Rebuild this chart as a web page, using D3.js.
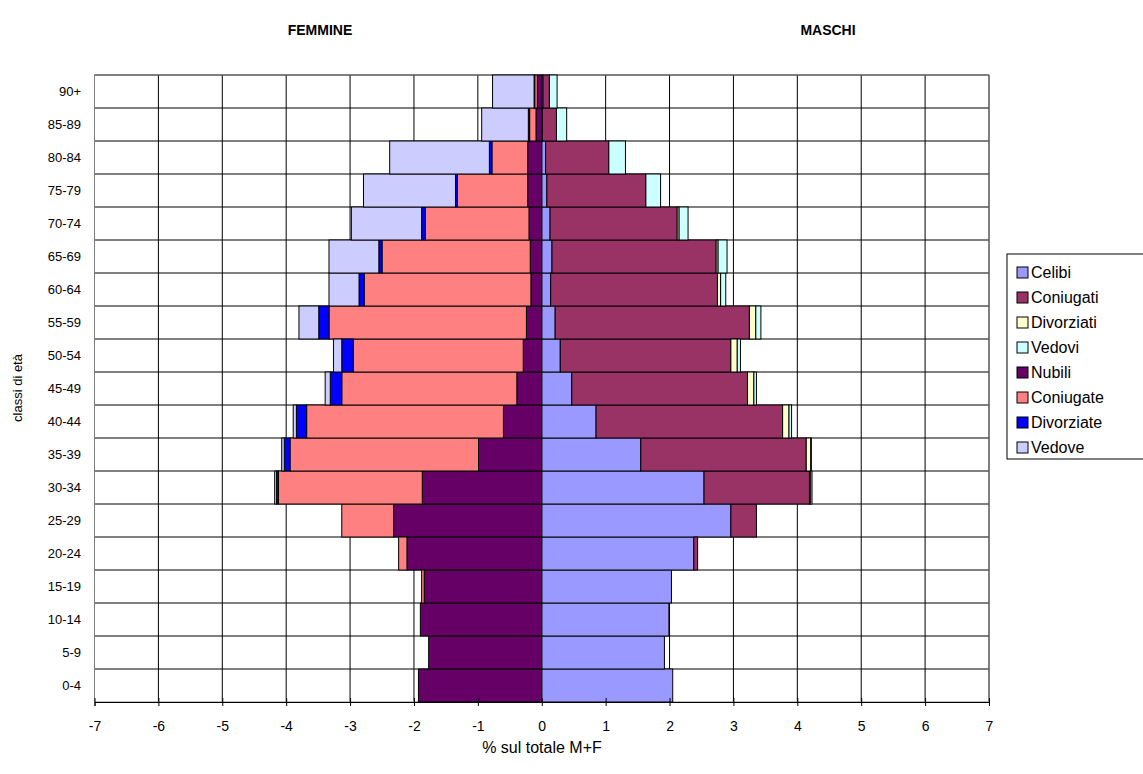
<!DOCTYPE html>
<html>
<head>
<meta charset="utf-8">
<script src="https://cdn.jsdelivr.net/npm/d3@7"></script>
<style>
  body { margin: 0; background: #fff; }
  text { font-family: "Liberation Sans", Arial, sans-serif; }
</style>
</head>
<body>
<div id="chart"></div>
<script>
// age classes, bottom to top
var ages = ["0-4","5-9","10-14","15-19","20-24","25-29","30-34","35-39","40-44","45-49",
            "50-54","55-59","60-64","65-69","70-74","75-79","80-84","85-89","90+"];

// femmine (% of total M+F)
var nubili     = [1.93,1.77,1.90,1.84,2.11,2.32,1.87,0.99,0.60,0.39,0.29,0.24,0.17,0.18,0.20,0.22,0.22,0.09,0.07];
var coniugate  = [0,0,0,0.04,0.13,0.81,2.25,2.95,3.08,2.74,2.66,3.09,2.61,2.32,1.62,1.10,0.56,0.10,0.04];
var divorziate = [0,0,0,0,0,0,0.03,0.09,0.16,0.18,0.18,0.16,0.08,0.05,0.06,0.03,0.04,0.02,0.01];
var vedove     = [0,0,0,0,0,0,0.03,0.04,0.05,0.08,0.13,0.31,0.47,0.78,1.10,1.44,1.56,0.73,0.65];

// maschi
var celibi     = [2.05,1.92,1.99,2.03,2.38,2.96,2.54,1.55,0.85,0.47,0.29,0.21,0.14,0.16,0.13,0.08,0.06,0.01,0.02];
var coniugati  = [0,0,0,0,0.06,0.40,1.65,2.59,2.92,2.75,2.67,3.04,2.61,2.57,1.99,1.55,0.99,0.22,0.10];
var divorziati = [0,0,0,0,0,0,0.02,0.07,0.10,0.10,0.10,0.10,0.05,0.03,0.03,0,0,0,0];
var vedovi     = [0,0,0,0,0,0,0.02,0.01,0.04,0.04,0.05,0.08,0.08,0.14,0.14,0.23,0.26,0.16,0.12];

var xTicks = [-7,-6,-5,-4,-3,-2,-1,0,1,2,3,4,5,6,7];

var keys = ["Celibi","Coniugati","Divorziati","Vedovi","Nubili","Coniugate","Divorziate","Vedove"];
var colors = ["#9999FF","#993366","#FFFFCC","#CCFFFF","#660066","#FF8080","#0000FF","#CCCCFF"];

var table = ages.map(function (a, i) {
    return {
        age: a,
        Celibi: celibi[i], Coniugati: coniugati[i], Divorziati: divorziati[i], Vedovi: vedovi[i],
        Nubili: -nubili[i], Coniugate: -coniugate[i], Divorziate: -divorziate[i], Vedove: -vedove[i]
    };
});

var width = 1143, height = 774;
var svg = d3.select("#chart").append("svg")
    .attr("width", width)
    .attr("height", height);

var x = d3.scaleLinear().domain([-7, 7]).range([94.5, 989]);
var y = d3.scaleBand().domain(ages.slice().reverse()).range([75, 702]).padding(0);
var color = d3.scaleOrdinal().domain(keys).range(colors);

// grid
var grid = svg.append("g");
grid.selectAll("line.v")
    .data(xTicks)
    .enter().append("line")
    .attr("x1", function (d) { return x(d); })
    .attr("x2", function (d) { return x(d); })
    .attr("y1", 75).attr("y2", 702)
    .attr("stroke", "#000").attr("stroke-width", 1);
grid.selectAll("line.h")
    .data(ages)
    .enter().append("line")
    .attr("x1", x(-7)).attr("x2", x(7))
    .attr("y1", function (d) { return y(d); })
    .attr("y2", function (d) { return y(d); })
    .attr("stroke", "#000").attr("stroke-width", 1);
grid.append("rect")
    .attr("x", x(-7)).attr("y", 75)
    .attr("width", x(7) - x(-7)).attr("height", 627)
    .attr("fill", "none").attr("stroke", "#808080");

// stacked bars
var series = d3.stack()
    .keys(keys)
    .offset(d3.stackOffsetDiverging)(table);

svg.append("g").selectAll("g")
    .data(series)
    .enter().append("g")
    .attr("fill", function (d) { return color(d.key); })
    .selectAll("rect")
    .data(function (d) { return d.filter(function (p) { return p[1] - p[0] !== 0; }); })
    .enter().append("rect")
    .attr("x", function (d) { return x(Math.min(d[0], d[1])); })
    .attr("width", function (d) { return Math.abs(x(d[1]) - x(d[0])); })
    .attr("y", function (d) { return y(d.data.age); })
    .attr("height", y.bandwidth())
    .attr("stroke", "#000")
    .attr("stroke-width", 1);

// x axis
var xAxis = svg.append("g")
    .attr("transform", "translate(0,702)")
    .call(d3.axisBottom(x).tickValues(xTicks).tickSize(4).tickPadding(15)
        .tickFormat(function (d) { return String(d); }));
xAxis.select(".domain").attr("stroke", "#000");
xAxis.selectAll(".tick line").attr("y1", -4).attr("stroke", "#000");
xAxis.selectAll("text").attr("font-size", 14).attr("fill", "#000")
    .style("font-family", "Liberation Sans, Arial, sans-serif");

// y labels
svg.append("g").selectAll("text")
    .data(ages)
    .enter().append("text")
    .attr("x", 81)
    .attr("y", function (d) { return y(d) + y.bandwidth() / 2 + 4.5; })
    .attr("text-anchor", "end")
    .attr("font-size", 13)
    .text(function (d) { return d; });

// titles
svg.append("text").attr("x", 320).attr("y", 35).attr("text-anchor", "middle")
    .attr("font-size", 14).attr("font-weight", "bold").text("FEMMINE");
svg.append("text").attr("x", 828).attr("y", 35).attr("text-anchor", "middle")
    .attr("font-size", 14).attr("font-weight", "bold").text("MASCHI");
svg.append("text").attr("x", 542).attr("y", 753).attr("text-anchor", "middle")
    .attr("font-size", 16).text("% sul totale M+F");
svg.append("text")
    .attr("transform", "translate(22,388) rotate(-90)")
    .attr("text-anchor", "middle")
    .attr("font-size", 13).text("classi di età");

// legend
var legend = svg.append("g").attr("transform", "translate(1007,254)");
legend.append("rect")
    .attr("width", 145).attr("height", 205)
    .attr("fill", "#fff").attr("stroke", "#000");
var item = legend.selectAll("g.item")
    .data(keys)
    .enter().append("g")
    .attr("transform", function (d, i) { return "translate(10," + (12 + i * 25) + ")"; });
item.append("rect")
    .attr("y", 1)
    .attr("width", 11).attr("height", 11)
    .attr("fill", function (d) { return color(d); })
    .attr("stroke", "#000");
item.append("text")
    .attr("x", 14).attr("y", 12)
    .attr("font-size", 16)
    .text(function (d) { return d; });
</script>
</body>
</html>
